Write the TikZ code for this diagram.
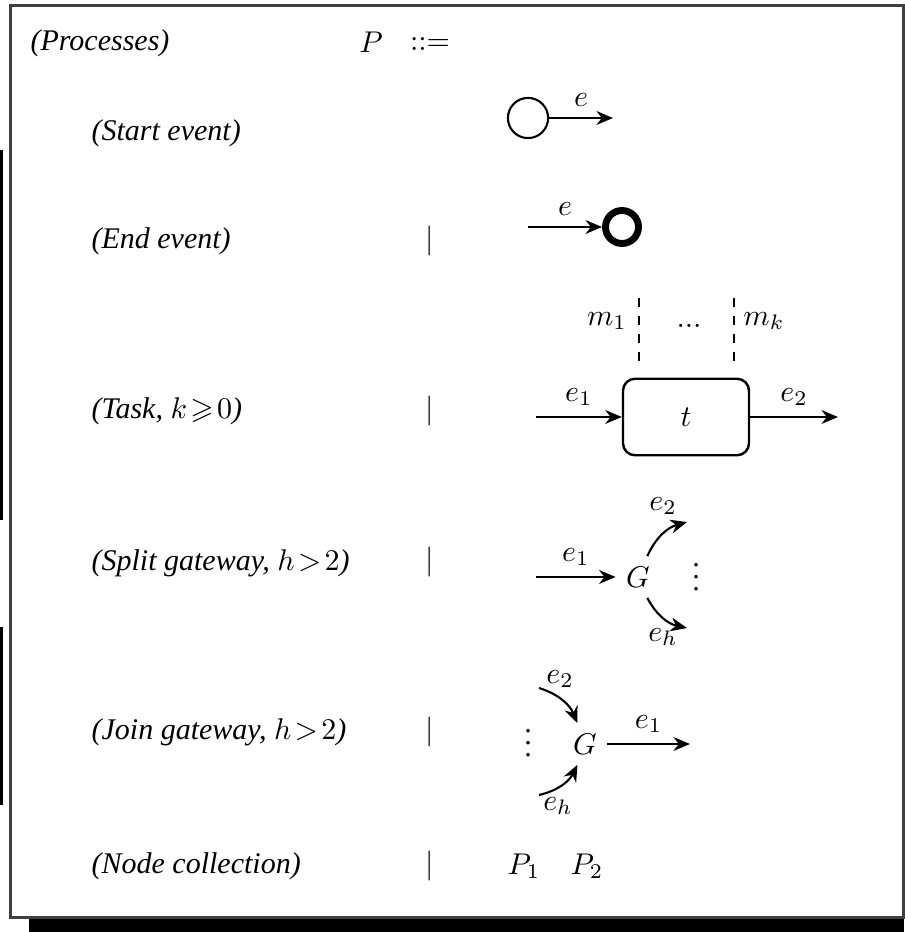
\documentclass[tikz,border=0pt]{standalone}
\usepackage[no-math]{fontspec}
\setmainfont{Liberation Serif}
\usepackage{amssymb}
\usetikzlibrary{arrows.meta,positioning}

\begin{document}
\begin{tikzpicture}[x=0.3333pt,y=-0.3333pt,
  rule/.style={font=\itshape,anchor=west,inner sep=0pt},
  flow/.style={-{Stealth[length=5.5pt,width=4.6pt]},line width=0.7pt},
  startev/.style={circle,draw,line width=0.7pt,minimum size=13.4pt,inner sep=0pt},
  endev/.style={circle,draw,line width=2.3pt,minimum size=11pt,inner sep=0pt},
  taskbox/.style={draw,rounded corners=4pt,line width=0.8pt,minimum width=42pt,minimum height=25.5pt}]
\useasboundingbox (0,0) rectangle (904,932);
\fill (0,150) rectangle (3,520);\fill (0,627) rectangle (3,805);
\fill (29,919) rectangle (904,932);
\draw[black!75,line width=1pt] (10,6) rectangle (903,917);
\node[rule] (proc) at (30,43) {(Processes)};
\node[rule] (start) at (91,133) {(Start event)};
\node[rule] (end) at (91,241) {(End event)};
\node[rule] (task) at (91,411) {(Task, $k\!\geqslant\!0$)};
\node[rule] (split) at (91,563) {(Split gateway, $h\!>\!2$)};
\node[rule] (join) at (91,732) {(Join gateway, $h\!>\!2$)};
\node[rule] (coll) at (91,866) {(Node collection)};
\node (P) at (371,42) {$P$};\node (def) at (430,44) {$::=$};
\node (bar1) at (430,241) {$|$};\node (bar2) at (430,411) {$|$};
\node (bar3) at (430,562) {$|$};\node (bar4) at (430,732) {$|$};
\node (bar5) at (430,866) {$|$};
\node[startev] (se) at (528,118) {};\coordinate (seo) at (613,118);
\draw[flow] (se) -- (seo) node[midway,above]{$e$};
\node[endev] (ee) at (622,227) {};\coordinate (eei) at (528,227);
\draw[flow] (eei) -- (ee) node[midway,above]{$e$};
\node[taskbox] (t) at (686,417) {$t$};
\coordinate (ti) at (536,417);\coordinate (to) at (838,417);
\draw[flow] (ti) -- (t) node[midway,above]{$e_1$};
\draw[flow] (t) -- (to) node[midway,above]{$e_2$};
\coordinate (d1a) at (639,298);\coordinate (d1b) at (639,368);
\coordinate (d2a) at (734,298);\coordinate (d2b) at (734,368);
\draw[dashed,line width=0.5pt] (d1a) -- (d1b);\draw[dashed,line width=0.5pt] (d2a) -- (d2b);
\node (m1) at (607,321) {$m_1$};\node (mdots) at (689,326) {$\mathbf{...}$};\node (mk) at (764,321) {$m_k$};
\node (g1) at (638,577) {$G$};\coordinate (g1i) at (536,577);
\draw[flow] (g1i) -- (g1) node[midway,above]{$e_1$};
\coordinate (g1a) at (687,522);\coordinate (g1b) at (687,628);
\draw[flow] (g1.66) to[bend left=25] (g1a);
\draw[flow] (g1.-66) to[bend right=25] (g1b);
\node (e2s) at (663,506) {$e_2$};\node (ehs) at (663,637) {$e_h$};
\node[inner sep=0pt] (vd1) at (696,568) {$\vdots$};
\node (g2) at (585,744) {$G$};\coordinate (g2o) at (690,744);
\draw[flow] (g2) -- (g2o) node[midway,above]{$e_1$};
\coordinate (g2a) at (539,688);\coordinate (g2b) at (539,795);
\draw[flow] (g2a) to[bend left=25] (g2.110);
\draw[flow] (g2b) to[bend right=25] (g2.250);
\node (e2j) at (560,679) {$e_2$};\node (ehj) at (558,806) {$e_h$};
\node[inner sep=0pt] (vd2) at (528,734) {$\vdots$};
\node (p1) at (524,866) {$P_1$};\node (p2) at (587,866) {$P_2$};
\end{tikzpicture}
\end{document}
